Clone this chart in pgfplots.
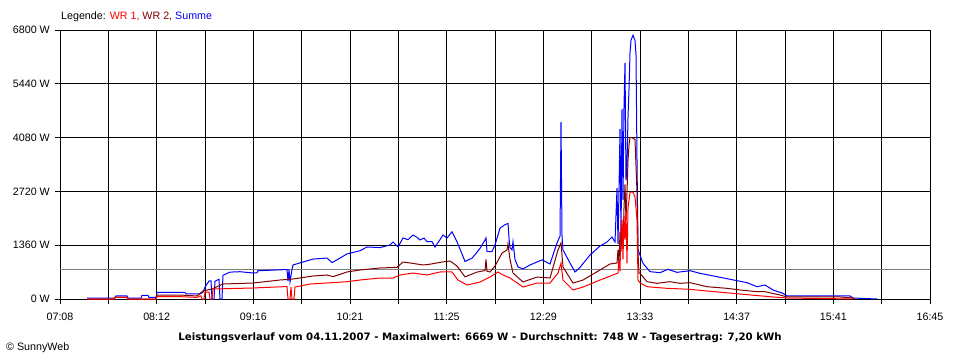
\documentclass[border=0pt]{standalone}
\usepackage{fontspec}
\setmainfont{Liberation Sans}
\newfontfamily\titlefont{DejaVu Sans}
\usepackage{pgfplots}
\pgfplotsset{compat=1.18}
\definecolor{wrone}{RGB}{255,0,0}
\definecolor{wrtwo}{RGB}{128,0,0}
\definecolor{sumblue}{RGB}{0,0,255}
\definecolor{avggray}{RGB}{128,128,128}
\begin{document}
\begin{tikzpicture}
\path[use as bounding box] (0pt,0pt) rectangle (960pt,360pt);
\begin{axis}[
  at={(60pt,61pt)}, anchor=south west,
  scale only axis, width=870pt, height=269pt,
  xmin=60, xmax=930, ymin=0, ymax=6800,
  xtick={60,108.33,156.67,205,253.33,301.67,350,398.33,446.67,495,543.33,591.67,640,688.33,736.67,785,833.33,881.67,930},
  xticklabels={07:08,,08:12,,09:16,,10:21,,11:25,,12:29,,13:33,,14:37,,15:41,,16:45},
  ytick={0,1360,2720,4080,5440,6800},
  yticklabels={0 W,1360 W,2720 W,4080 W,5440 W,6800 W},
  grid=major,
  major grid style={black, line width=1pt},
  axis line style={black, line width=1pt},
  tick style={black, line width=1pt},
  major tick length=5pt,
  tick align=outside,
  xtick pos=bottom, ytick pos=left,
  xticklabel style={anchor=north, inner sep=0pt, yshift=-9pt, font=\fontsize{10.7}{12}\selectfont},
  yticklabel style={anchor=east, inner sep=0pt, xshift=-5pt, font=\fontsize{10.7}{12}\selectfont},
]
\addplot[avggray, line width=1pt] coordinates {(60,748) (930,748)};
% Summe
\addplot[sumblue, line width=1pt] coordinates {
(87,25)(115,25)(116,76)(127,76)(128,25)(141,25)(142,90)(148,90)(149,40)(156,40)(157,165)(185,165)(186,130)(200,130)(203,170)(205,300)(209,455)(211,460)(212,0)(214,0)(215,450)(219,500)(220,0)(222,0)(223,600)(230,680)(240,690)(252,660)(257,660)(258,715)(287,745)(288,450)(289,745)(290,430)(292,745)(293,860)(313,1010)(327,1035)(332,920)(337,990)(347,1140)(360,1220)(367,1315)(380,1300)(390,1365)(393,1441)(398,1315)(403,1542)(408,1500)(413,1618)(417,1560)(420,1492)(424,1540)(427,1450)(432,1450)(435,1315)(440,1500)(443,1618)(447,1542)(452,1700)(457,1450)(465,950)(472,1030)(480,1280)(485,1492)(486,1542)(487,1200)(492,1200)(495,1365)(500,1790)(505,1880)(508,1910)(509,1542)(510,1300)(512,1240)(513,1450)(515,1000)(518,810)(523,760)(530,860)(537,935)(542,990)(550,885)(557,1416)(560,1590)(561,4475)(562,1590)(563,1240)(570,910)(575,683)(580,800)(590,1112)(600,1340)(607,1441)(612,1567)(615,1441)(617,2800)(618,1390)(619,2750)(620,4300)(621,1500)(622,4800)(623,2500)(624,4850)(625,5970)(626,3000)(627,3350)(628,4600)(629,5300)(630,6220)(631,6540)(633,6669)(635,6540)(636,6170)(637,3500)(638,1240)(640,1112)(643,902)(650,691)(660,666)(668,750)(677,674)(690,716)(700,649)(717,565)(737,463)(747,413)(757,311)(765,354)(773,228)(783,143)(787,76)(807,76)(827,76)(850,76)(853,25)(877,0)
};
% WR 2
\addplot[wrtwo, line width=1pt] coordinates {
(87,0)(114,0)(115,50)(127,50)(128,0)(156,0)(157,100)(180,100)(197,76)(203,202)(212,253)(223,379)(253,404)(280,480)(293,506)(313,581)(327,607)(333,565)(347,683)(360,733)(380,784)(397,800)(403,935)(413,900)(423,860)(430,880)(442,935)(450,960)(457,834)(465,560)(477,680)(485,720)(486,1000)(487,700)(490,683)(495,834)(502,1160)(507,1240)(508,1400)(509,1190)(510,1000)(513,657)(523,430)(537,556)(550,531)(558,1240)(561,1416)(563,809)(573,404)(583,480)(600,733)(610,885)(617,910)(618,1240)(619,900)(620,1700)(621,1200)(622,1900)(623,1300)(624,2300)(625,2900)(626,2000)(627,2700)(628,3500)(629,3900)(630,4080)(632,4080)(635,4030)(637,2700)(638,1163)(639,657)(640,650)(647,438)(657,396)(670,438)(680,396)(690,413)(707,311)(727,270)(740,228)(757,185)(765,185)(780,101)(787,51)(840,51)(853,25)(855,0)
};
% WR 1
\addplot[wrone, line width=1pt] coordinates {
(87,0)(114,0)(115,40)(127,40)(128,0)(156,0)(157,60)(180,60)(197,40)(200,76)(201,76)(202,0)(204,0)(205,177)(209,177)(210,0)(212,0)(213,253)(253,278)(283,311)(287,311)(288,0)(290,0)(291,300)(292,0)(294,0)(295,303)(297,311)(310,379)(347,437)(360,480)(380,531)(393,531)(400,607)(413,657)(427,607)(440,683)(452,683)(458,480)(467,354)(480,430)(490,556)(498,683)(503,607)(510,531)(523,303)(537,404)(550,404)(558,657)(561,910)(563,480)(573,228)(583,303)(600,480)(613,607)(618,657)(619,990)(620,700)(621,1800)(622,2000)(623,1000)(624,2100)(625,1500)(626,2200)(627,900)(628,2300)(629,2500)(630,2700)(633,2700)(635,2580)(637,2000)(638,480)(640,412)(647,311)(667,270)(690,245)(707,202)(740,126)(773,51)(787,25)(853,0)
};
\end{axis}
\node[anchor=base west, inner sep=0pt, font=\fontsize{10.7}{12}\selectfont] at (61pt,340.5pt) {Legende: \textcolor{wrone}{WR 1,} \textcolor{wrtwo}{WR 2,} \textcolor{sumblue}{Summe}};
\node[anchor=base, inner sep=0pt, font=\titlefont\fontsize{10.2}{12}\selectfont\bfseries] at (480pt,20pt) {Leistungsverlauf vom 04.11.2007 - Maximalwert: 6669 W - Durchschnitt: 748 W - Tagesertrag: 7,20 kWh};
\node[anchor=base west, inner sep=0pt, font=\fontsize{10.7}{12}\selectfont] at (6pt,10pt) {\textcopyright{} SunnyWeb};
\end{tikzpicture}
\end{document}
